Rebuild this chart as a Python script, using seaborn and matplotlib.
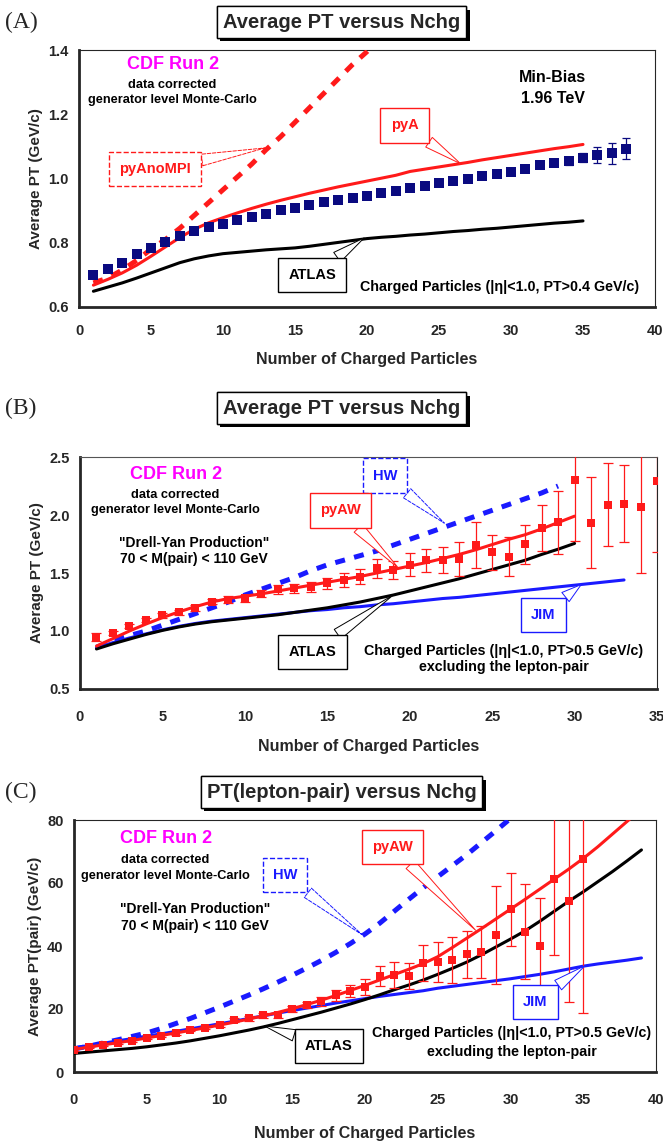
import numpy as np
import pandas as pd
import seaborn as sns
import matplotlib
matplotlib.use('Agg')
import matplotlib.pyplot as plt
import matplotlib.patheffects as pe
from matplotlib.ticker import MultipleLocator, FormatStrFormatter

# ---------------- panel A: Min-Bias <pT> vs Nchg ----------------
nchg_a = list(range(1, 39))
data_a = [0.701, 0.717, 0.738, 0.764, 0.784, 0.803, 0.821, 0.836, 0.849, 0.859,
          0.870, 0.881, 0.891, 0.901, 0.909, 0.917, 0.926, 0.933, 0.940, 0.947,
          0.955, 0.962, 0.970, 0.977, 0.985, 0.992, 0.999, 1.007, 1.014, 1.020,
          1.029, 1.041, 1.049, 1.055, 1.065, 1.072, 1.078, 1.093]
err_a = [0.004] * 20 + [0.005] * 10 + [0.008, 0.009, 0.010, 0.012, 0.014, 0.025, 0.032, 0.033]
nchg_pya = list(range(1, 36))
pya_a = [0.668, 0.686, 0.706, 0.730, 0.758, 0.787, 0.816, 0.842, 0.862, 0.878,
         0.893, 0.907, 0.920, 0.932, 0.943, 0.954, 0.964, 0.974, 0.983, 0.992,
         1.001, 1.010, 1.022, 1.029, 1.036, 1.043, 1.050, 1.058, 1.065, 1.072,
         1.079, 1.086, 1.093, 1.099, 1.106]
atlas_a = [0.649, 0.662, 0.675, 0.690, 0.706, 0.722, 0.738, 0.750, 0.759, 0.766,
           0.770, 0.774, 0.778, 0.781, 0.784, 0.789, 0.795, 0.801, 0.807, 0.813,
           0.817, 0.820, 0.824, 0.827, 0.831, 0.835, 0.838, 0.842, 0.845, 0.849,
           0.853, 0.857, 0.861, 0.864, 0.868]
nchg_nompi = list(range(1, 22))
pyanompi_a = [0.675, 0.690, 0.715, 0.745, 0.780, 0.810, 0.845, 0.885, 0.925, 0.965,
              1.005, 1.045, 1.090, 1.130, 1.175, 1.220, 1.265, 1.310, 1.355, 1.395, 1.440]

# ---------------- panel B: Drell-Yan <pT> vs Nchg ----------------
nchg_b = list(range(1, 36))
data_b = [0.948, 0.982, 1.044, 1.095, 1.134, 1.160, 1.201, 1.253, 1.271, 1.284,
          1.322, 1.358, 1.369, 1.379, 1.410, 1.443, 1.469, 1.539, 1.526, 1.570,
          1.608, 1.614, 1.621, 1.742, 1.678, 1.642, 1.747, 1.890, 1.936, 2.300,
          1.934, 2.090, 2.097, 2.067, 2.290]
err_b = [0.035, 0.02, 0.02, 0.02, 0.02, 0.02, 0.025, 0.02, 0.03, 0.03,
         0.03, 0.035, 0.04, 0.045, 0.05, 0.06, 0.065, 0.08, 0.08, 0.10,
         0.10, 0.11, 0.15, 0.20, 0.15, 0.165, 0.17, 0.20, 0.27, 0.52,
         0.39, 0.36, 0.33, 0.57, 0.61]
nchg_b30 = list(range(1, 31))
pyaw_b = [0.870, 0.935, 1.000, 1.060, 1.115, 1.165, 1.210, 1.250, 1.280, 1.300,
          1.320, 1.345, 1.370, 1.395, 1.420, 1.445, 1.470, 1.500, 1.530, 1.560,
          1.590, 1.625, 1.660, 1.700, 1.745, 1.790, 1.830, 1.880, 1.935, 1.990]
atlas_b = [0.845, 0.890, 0.930, 0.970, 1.005, 1.035, 1.060, 1.080, 1.095, 1.110,
           1.125, 1.140, 1.160, 1.180, 1.200, 1.225, 1.250, 1.280, 1.310, 1.345,
           1.380, 1.415, 1.450, 1.490, 1.530, 1.570, 1.610, 1.660, 1.705, 1.755]
nchg_hw_b = list(range(1, 30))
hw_b = [0.860, 0.915, 0.960, 1.000, 1.050, 1.100, 1.150, 1.200, 1.250, 1.310,
        1.360, 1.410, 1.460, 1.520, 1.570, 1.610, 1.650, 1.690, 1.740, 1.790,
        1.840, 1.890, 1.940, 1.990, 2.040, 2.090, 2.140, 2.190, 2.250]
nchg_jim_b = list(range(1, 34))
jim_b = [0.855, 0.900, 0.940, 0.975, 1.010, 1.040, 1.065, 1.085, 1.100, 1.115,
         1.130, 1.145, 1.160, 1.175, 1.185, 1.200, 1.210, 1.225, 1.235, 1.250,
         1.265, 1.280, 1.290, 1.305, 1.320, 1.335, 1.350, 1.365, 1.380, 1.395,
         1.410, 1.425, 1.440]

# ---------------- panel C: <pT(pair)> vs Nchg ----------------
nchg_c = list(range(0, 36))
data_c = [7.0, 7.8, 8.7, 9.2, 10.0, 10.9, 11.5, 12.3, 13.4, 14.1,
          15.0, 16.5, 17.0, 18.0, 18.1, 20.0, 21.2, 22.4, 24.3, 25.6,
          27.0, 30.4, 30.8, 30.5, 34.5, 35.0, 35.5, 37.4, 38.2, 43.6,
          51.6, 44.6, 40.0, 61.3, 54.2, 67.7]
err_c = [0.3, 0.3, 0.3, 0.3, 0.4, 0.4, 0.4, 0.5, 0.5, 0.5,
         0.6, 0.6, 0.7, 0.8, 0.8, 0.9, 1.0, 1.3, 1.7, 1.9,
         2.5, 3.2, 4.0, 4.2, 5.7, 6.3, 7.2, 7.5, 8.3, 15.6,
         11.5, 15.1, 15.3, 24.0, 32.0, 49.0]
nchg_c40 = list(range(0, 40))
pyaw_c = [7.2, 7.9, 8.6, 9.3, 10.0, 10.8, 11.6, 12.4, 13.2, 14.0,
          14.9, 15.8, 16.8, 17.8, 18.9, 20.1, 21.4, 22.8, 24.3, 25.9,
          27.5, 29.2, 30.9, 32.6, 34.4, 36.6, 39.5, 42.5, 45.5, 48.6,
          51.7, 54.8, 58.0, 61.2, 64.4, 67.8, 71.5, 75.5, 79.5, 83.5]
atlas_c = [5.9, 6.3, 6.7, 7.1, 7.5, 8.0, 8.6, 9.2, 9.9, 10.7,
           11.5, 12.4, 13.3, 14.3, 15.4, 16.6, 17.8, 19.0, 20.3, 21.6,
           23.0, 24.5, 26.1, 27.6, 29.2, 31.0, 32.9, 34.9, 37.2, 39.7,
           42.2, 44.8, 47.8, 51.0, 54.2, 57.2, 60.4, 63.6, 67.0, 70.5]
jim_c = [7.7, 8.4, 9.1, 9.9, 10.6, 11.4, 12.1, 12.9, 13.7, 14.5,
         15.3, 16.1, 17.0, 17.8, 18.7, 19.5, 20.3, 21.1, 21.9, 22.6,
         23.3, 24.0, 24.6, 25.2, 25.8, 26.6, 27.2, 27.8, 28.4, 29.0,
         29.6, 30.3, 31.0, 31.8, 32.7, 33.6, 34.3, 34.9, 35.5, 36.2]
nchg_hw_c = list(range(0, 31))
hw_c = [7.3, 8.2, 9.2, 10.2, 11.3, 12.4, 13.8, 15.4, 17.0, 18.8,
        20.6, 22.5, 24.4, 26.4, 28.5, 30.7, 33.0, 35.4, 38.0, 40.8,
        43.8, 47.2, 51.0, 54.8, 58.5, 62.0, 65.5, 69.0, 72.8, 76.6, 80.5]

RED = '#ff1a1a'
BLUE = '#1a1aff'
NAVY = '#0a0a80'
MAGENTA = '#ff00ff'
SANS = ['Liberation Sans', 'DejaVu Sans']


def curve(ax, x, y, color, dashed=False):
    df = pd.DataFrame({'n': x, 'v': y})
    if dashed:
        sns.lineplot(data=df, x='n', y='v', ax=ax, color=color, lw=3.6,
                     linestyle=(0, (2.0, 1.9)), zorder=3)
    else:
        sns.lineplot(data=df, x='n', y='v', ax=ax, color=color, lw=2.2, zorder=4)


def points(ax, x, y, err, color, ms, capsize):
    ax.errorbar(x, y, yerr=err, fmt='none', ecolor=color, elinewidth=0.9,
                capsize=capsize, capthick=0.9, zorder=5, clip_on=True)
    df = pd.DataFrame({'n': x, 'v': y})
    sns.scatterplot(data=df, x='n', y='v', ax=ax, color=color, marker='s',
                    s=ms, edgecolor=color, linewidth=0, zorder=6)


def callout(ax, label, tip, box, color, dashed=False):
    ls = '--' if dashed else '-'
    ax.annotate(label, xy=tip, xytext=box, ha='center', va='center',
                fontsize=10.5, fontweight='bold', color=color, family=SANS,
                bbox=dict(boxstyle='square,pad=0.7', fc='white', ec=color, lw=1.0, ls=ls),
                arrowprops=dict(arrowstyle='wedge,tail_width=0.8,shrink_factor=0.5',
                                fc='white', ec=color, lw=0.7, ls=ls,
                                shrinkA=0, shrinkB=0),
                zorder=8)


def label(ax, x, y, s, color='black', size=10.5):
    ax.text(x, y, s, ha='center', va='center', fontsize=size, fontweight='bold',
            color=color, family=SANS, zorder=7)


def style_axes(ax, xmax, ylim, major, minor, fmt, ylabel, xpad=6, labelpad=10):
    ax.set_xlim(0, xmax)
    ax.set_ylim(*ylim)
    ax.xaxis.set_major_locator(MultipleLocator(5))
    ax.yaxis.set_major_locator(MultipleLocator(major))
    ax.yaxis.set_minor_locator(MultipleLocator(minor))
    ax.yaxis.set_major_formatter(FormatStrFormatter(fmt))
    ax.tick_params(axis='x', direction='out', length=6, width=1.3, labelsize=10.5, pad=xpad)
    ax.tick_params(axis='y', which='major', direction='inout', length=9, width=1.3,
                   labelsize=10.5, pad=3)
    ax.tick_params(axis='y', which='minor', direction='inout', length=6, width=1.1)
    for lab in ax.get_xticklabels() + ax.get_yticklabels():
        lab.set_fontweight('bold')
    for side in ('left', 'bottom'):
        ax.spines[side].set_linewidth(2.0)
    for side in ('top', 'right'):
        ax.spines[side].set_linewidth(0.8)
        ax.spines[side].set_visible(True)
    ax.set_xlabel('Number of Charged Particles', fontsize=11.5, fontweight='bold',
                  labelpad=labelpad)
    ax.set_ylabel(ylabel, fontsize=11, fontweight='bold', labelpad=4)


def title_box(fig, y, s, letter):
    t = fig.text(0.515, y, s, ha='center', va='center', fontsize=14.5, fontweight='bold',
                 family=SANS, bbox=dict(boxstyle='square,pad=0.3', fc='white', ec='black', lw=1.0))
    t.get_bbox_patch().set_path_effects([
        pe.withSimplePatchShadow(offset=(2.5, -2.5), shadow_rgbFace='black', alpha=1.0),
        pe.Normal()])
    fig.text(0.008, y, letter, ha='left', va='center', fontsize=17,
             family=['Liberation Serif', 'DejaVu Serif'])


def main():
    sns.set_style('white')
    plt.rcParams['font.family'] = SANS
    fig = plt.figure(figsize=(6.63, 11.45), dpi=100)
    W, H = 663, 1145

    def add_axes(left, right, top, bottom):
        return fig.add_axes([left / W, 1 - bottom / H, (right - left) / W, (bottom - top) / H])

    # ---- (A)
    ax = add_axes(79, 655, 50, 307)
    curve(ax, nchg_nompi, pyanompi_a, RED, dashed=True)
    curve(ax, nchg_pya, atlas_a, 'black')
    curve(ax, nchg_pya, pya_a, RED)
    points(ax, nchg_a, data_a, err_a, NAVY, 42, 3)
    style_axes(ax, 40, (0.6, 1.4), 0.2, 0.04, '%.1f', 'Average PT (GeV/c)')
    label(ax, 6.5, 1.355, 'CDF Run 2', MAGENTA, 13)
    label(ax, 6.5, 1.29, 'data corrected', size=9.2)
    label(ax, 6.5, 1.243, 'generator level Monte-Carlo', size=9.2)
    label(ax, 32.9, 1.315, 'Min-Bias', size=11.5)
    label(ax, 32.9, 1.248, '1.96 TeV', size=11.5)
    label(ax, 29.2, 0.662, 'Charged Particles (|η|<1.0, PT>0.4 GeV/c)', size=10.3)
    callout(ax, 'pyA', (26.5, 1.046), (22.6, 1.165), RED)
    callout(ax, 'pyAnoMPI', (12.9, 1.095), (5.3, 1.03), RED, dashed=True)
    callout(ax, 'ATLAS', (19.8, 0.815), (16.2, 0.70), 'black')
    title_box(fig, 1 - 22 / H, 'Average PT versus Nchg', '(A)')

    # ---- (B)
    ax = add_axes(80, 657, 457, 689)
    curve(ax, nchg_hw_b, hw_b, BLUE, dashed=True)
    curve(ax, nchg_jim_b, jim_b, BLUE)
    curve(ax, nchg_b30, atlas_b, 'black')
    curve(ax, nchg_b30, pyaw_b, RED)
    points(ax, nchg_b, data_b, err_b, RED, 36, 3.5)
    style_axes(ax, 35, (0.5, 2.5), 0.5, 0.1, '%.1f', 'Average PT (GeV/c)',
               xpad=9, labelpad=11)
    ax.spines['top'].set_color('#555555')
    label(ax, 5.8, 2.35, 'CDF Run 2', MAGENTA, 13)
    label(ax, 5.8, 2.17, 'data corrected', size=9.2)
    label(ax, 5.8, 2.04, 'generator level Monte-Carlo', size=9.2)
    label(ax, 6.9, 1.76, '"Drell-Yan Production"', size=10)
    label(ax, 6.9, 1.62, '70 < M(pair) < 110 GeV', size=10)
    label(ax, 25.7, 0.83, 'Charged Particles (|η|<1.0, PT>0.5 GeV/c)', size=10.3)
    label(ax, 25.7, 0.69, 'excluding the lepton-pair', size=10.3)
    callout(ax, 'HW', (22.1, 1.93), (18.5, 2.34), BLUE, dashed=True)
    callout(ax, 'pyAW', (19.3, 1.545), (15.8, 2.04), RED)
    callout(ax, 'ATLAS', (19.0, 1.31), (14.1, 0.82), 'black')
    callout(ax, 'JIM', (30.4, 1.40), (28.1, 1.14), BLUE)
    title_box(fig, 1 - 408 / H, 'Average PT versus Nchg', '(B)')

    # ---- (C)
    ax = add_axes(74, 656, 820, 1072)
    curve(ax, nchg_hw_c, hw_c, BLUE, dashed=True)
    curve(ax, nchg_c40, jim_c, BLUE)
    curve(ax, nchg_c40, atlas_c, 'black')
    curve(ax, nchg_c40, pyaw_c, RED)
    points(ax, nchg_c, data_c, err_c, RED, 36, 3.5)
    style_axes(ax, 40, (0, 80), 20, 4, '%d', 'Average PT(pair) (GeV/c)',
               xpad=9, labelpad=14)
    label(ax, 6.3, 74, 'CDF Run 2', MAGENTA, 13)
    label(ax, 6.3, 67.4, 'data corrected', size=9.2)
    label(ax, 6.3, 62.3, 'generator level Monte-Carlo', size=9.2)
    label(ax, 8.3, 51.8, '"Drell-Yan Production"', size=10)
    label(ax, 8.3, 46.4, '70 < M(pair) < 110 GeV', size=10)
    label(ax, 30.1, 12.3, 'Charged Particles (|η|<1.0, PT>0.5 GeV/c)', size=10.3)
    label(ax, 30.1, 6.4, 'excluding the lepton-pair', size=10.3)
    callout(ax, 'HW', (19.8, 43.6), (14.5, 62.5), BLUE, dashed=True)
    callout(ax, 'pyAW', (27.6, 45.0), (21.9, 71.5), RED)
    callout(ax, 'ATLAS', (13.1, 14.6), (17.5, 8.2), 'black')
    callout(ax, 'JIM', (35.1, 33.7), (31.7, 22.3), BLUE)
    title_box(fig, 1 - 792 / H, 'PT(lepton-pair) versus Nchg', '(C)')

    fig.savefig('out.png', dpi=100)


if __name__ == '__main__':
    main()
